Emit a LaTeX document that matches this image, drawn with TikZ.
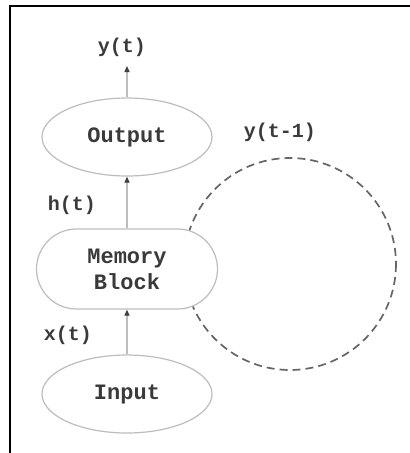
\documentclass[tikz,border=0pt]{standalone}
\usepackage{fontspec}
\setmonofont{Liberation Mono}
\usetikzlibrary{shapes.misc,shapes.geometric,arrows.meta}
\definecolor{txt}{HTML}{3A3A3A}
\definecolor{shape}{HTML}{BDBDBD}
\definecolor{dash}{HTML}{666666}
\tikzset{
  unitnode/.style={draw=shape, line width=1.2pt, fill=white, inner sep=0pt,
    font=\ttfamily\bfseries\fontsize{22}{26}\selectfont, text=txt, align=center},
  ell/.style={unitnode, ellipse, minimum width=170pt, minimum height=78pt},
  memblock/.style={unitnode, rounded rectangle, minimum width=181pt, minimum height=80pt},
  lbl/.style={font=\ttfamily\bfseries\fontsize{20}{24}\selectfont, text=txt, inner sep=0pt},
  conn/.style={draw=shape, line width=1.2pt, -{Triangle[length=6pt,width=5pt,color=black!75]}},
  loopline/.style={draw=dash, line width=1.7pt, dash pattern=on 8pt off 5pt},
  frameline/.style={draw=black, line width=1.6pt}
}
\begin{document}
\begin{tikzpicture}[x=1pt,y=-1pt]
\useasboundingbox (0,0) rectangle (410,453);
\fill[white] (0,0) rectangle (410,453);
\draw[frameline] (10,453) -- (10,6) -- (410,6);
\draw[loopline] (290,264) circle[radius=106];
\node[ell] (out) at (127,137) {Output};
\node[memblock] (mem) at (127,269) {Memory\\Block};
\node[ell] (in) at (127,394) {Input};
\node[lbl] (yt) at (122,47) {y(t)};
\node[lbl] (ht) at (72,205) {h(t)};
\node[lbl] (xt) at (68,335) {x(t)};
\node[lbl] (ytm) at (280,132) {y(t-1)};
\coordinate (ytip) at (127,66);
\draw[conn] (in.north) -- (mem.south);
\draw[conn] (mem.north) -- (out.south);
\draw[conn] (out.north) -- (ytip);
\end{tikzpicture}
\end{document}
